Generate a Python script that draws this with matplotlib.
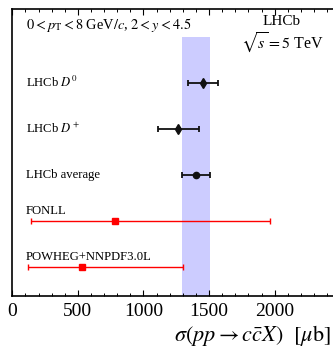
#!/usr/bin/env python3
"""Charm cross-section comparison, LHCb 5 TeV."""

import matplotlib

matplotlib.use("Agg")
import matplotlib.pyplot as plt
from matplotlib.ticker import MultipleLocator

# measurements (value, lower edge, upper edge) in microbarn
labels = [r"LHCb $D^0$", r"LHCb $D^+$", "LHCb average", "FONLL", "POWHEG+NNPDF3.0L"]
values = [1453, 1262, 1400, 784, 530]
lows = [1336, 1107, 1293, 143, 117]
highs = [1570, 1420, 1504, 1967, 1301]
band = (1293, 1504)
rows = [5, 4, 3, 2, 1]

plt.rcParams["font.family"] = ["Liberation Serif", "DejaVu Serif"]
plt.rcParams["mathtext.fontset"] = "stix"

fig = plt.figure(figsize=(3.33, 3.47), dpi=100)
ax = fig.add_axes([0.037, 0.148, 0.963, 0.826])
ax.set_xlim(0, 2445)
ax.set_ylim(0.37, 6.6)

ax.fill_betweenx([0.37, 6.0], band[0], band[1], color="#ccccff", lw=0, zorder=1)

styles = [
    dict(color="#111111", marker="d", ms=5.5, elw=1.3, cap=2.2),
    dict(color="#111111", marker="d", ms=5.5, elw=1.3, cap=2.2),
    dict(color="#111111", marker="o", ms=4.5, elw=1.3, cap=2.2),
    dict(color="red", marker="s", ms=4.0, elw=1.0, cap=2.0),
    dict(color="red", marker="s", ms=4.0, elw=1.0, cap=2.0),
]
for y, v, lo, hi, lab, st in zip(rows, values, lows, highs, labels, styles):
    ax.errorbar(
        v, y, xerr=[[v - lo], [hi - v]], fmt=st["marker"], color=st["color"],
        ms=st["ms"], elinewidth=st["elw"], capsize=st["cap"], capthick=st["elw"], zorder=3,
    )
    if st["color"] == "red":
        ax.text(105, y + 0.21, lab, fontsize=9.1, va="center", ha="left")
    else:
        ax.text(105, y, lab, fontsize=9.1, va="center", ha="left")

ax.text(105, 6.25, r"$0 < p_{\rm T} < 8$ GeV$/c$, $2 < y < 4.5$", fontsize=10.4, va="center", ha="left")
ax.text(0.841, 0.955, "LHCb", fontsize=11, ha="center", va="center", transform=ax.transAxes)
ax.text(0.841, 0.883, r"$\sqrt{s} = 5$ TeV", fontsize=11.5, ha="center", va="center", transform=ax.transAxes)

ax.xaxis.set_major_locator(MultipleLocator(500))
ax.xaxis.set_minor_locator(MultipleLocator(100))
ax.tick_params(axis="x", which="both", direction="in", top=True, bottom=True, labelsize=14, pad=5)
ax.tick_params(axis="x", which="major", length=4, width=0.8)
ax.tick_params(axis="x", which="minor", length=2.2, width=0.7)
ax.set_yticks([])
ax.spines["right"].set_visible(False)
for side in ("left", "bottom", "top"):
    ax.spines[side].set_linewidth(1.2)

fig.text(
    331 / 333, 1 - 341 / 347, r"$\sigma(pp \rightarrow c\bar{c}X)\ \ [\mu\mathrm{b}]$",
    fontsize=16, ha="right", va="baseline",
)

fig.savefig("out.png", dpi=100)
